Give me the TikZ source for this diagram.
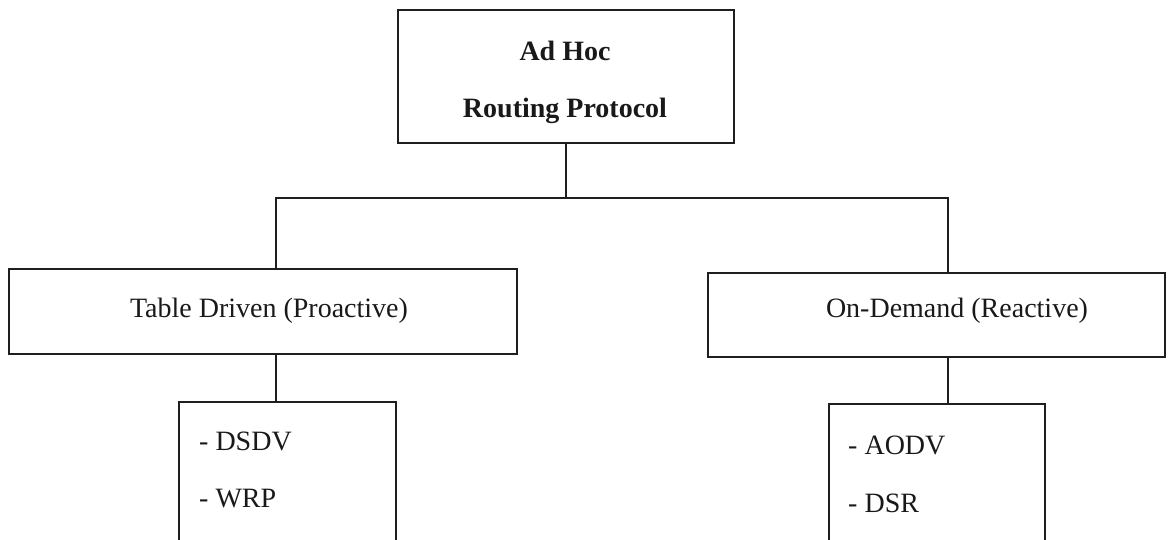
\documentclass[tikz,border=0pt]{standalone}
\usepackage{fontspec}
\setmainfont{Liberation Serif}
\begin{document}
\begin{tikzpicture}[x=1pt,y=-1pt,
  box/.style={draw=black!88,line width=2pt,inner sep=0pt,anchor=north west},
  wire/.style={draw=black!88,line width=2pt},
  lbl/.style={inner sep=0pt,anchor=base,text=black!90,font=\fontsize{28}{34}\selectfont},
  item/.style={inner sep=0pt,anchor=base west,text=black!90,font=\fontsize{28}{34}\selectfont}]
\useasboundingbox (0,0) rectangle (1170,540);
\clip (0,0) rectangle (1170,540);

% boxes
\node[box,minimum width=336pt,minimum height=133pt] (root) at (397,9) {};
\node[box,minimum width=508pt,minimum height=85pt] (tbl) at (8,268) {};
\node[box,minimum width=457pt,minimum height=84pt] (odr) at (707,272) {};
\node[box,minimum width=217pt,minimum height=200pt] (pro) at (178,401) {};
\node[box,minimum width=216pt,minimum height=200pt] (rea) at (828,403) {};

% labels
\node[lbl,font=\fontsize{28}{34}\selectfont\bfseries] (t1) at (565,61) {Ad Hoc};
\node[lbl,font=\fontsize{28}{34}\selectfont\bfseries] (t2) at (565,118) {Routing Protocol};
\node[lbl] (t3) at (269,317) {Table Driven (Proactive)};
\node[lbl] (t4) at (957,317) {On-Demand (Reactive)};
\node[item] (i1) at (199,450) {- DSDV};
\node[item] (i2) at (199,507) {- WRP};
\node[item] (i3) at (848,454) {- AODV};
\node[item] (i4) at (848,512) {- DSR};

% tree connectors
\coordinate (jl) at (276,198);
\coordinate (jr) at (948,198);
\draw[wire] (root.south) -- (root.south |- jl);
\draw[wire,line cap=rect] (jl) -- (jr);
\draw[wire] (jl) -- (jl |- tbl.north);
\draw[wire] (jr) -- (jr |- odr.north);
\draw[wire] (jl |- tbl.south) -- (jl |- pro.north);
\draw[wire] (jr |- odr.south) -- (jr |- rea.north);
\end{tikzpicture}
\end{document}
